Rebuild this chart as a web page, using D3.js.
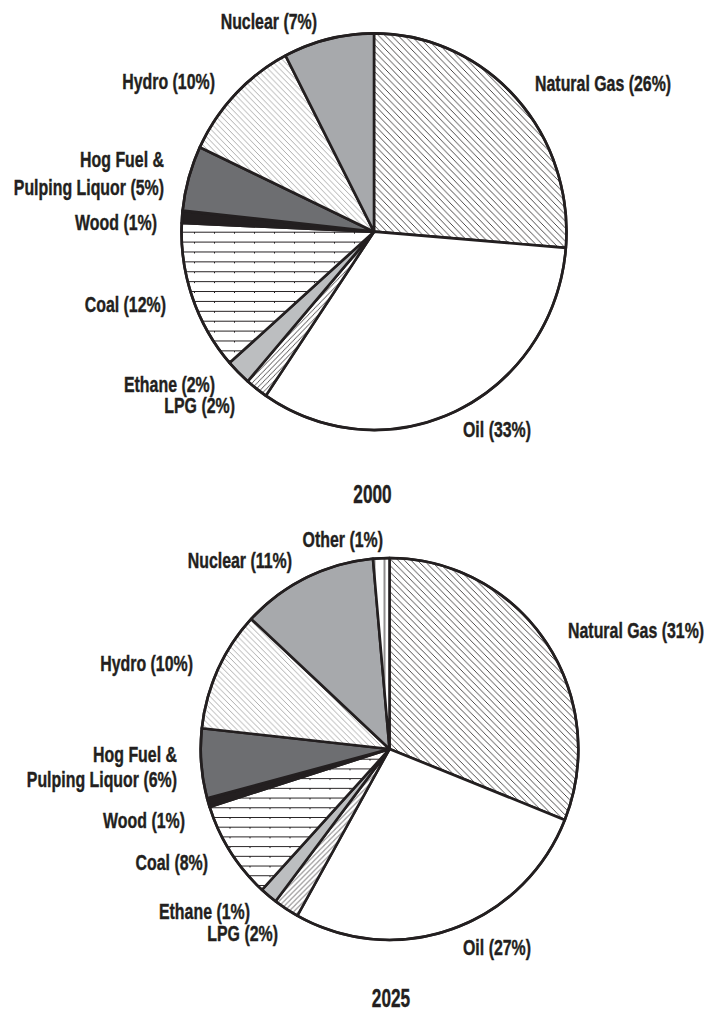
<html>
  <head>
    <meta charset="utf-8">
    <script src="https://d3js.org/d3.v7.min.js"></script>
    <style>
      body { margin: 0; background: #fff; }
      text { font-family: "Liberation Sans", Arial, sans-serif; font-weight: bold; fill: #231f20; stroke: #231f20; stroke-width: 0.4; }
    </style>
  </head>
  <body>
    <svg id="chart" width="717" height="1010"></svg>
    <script>
      // shares (printed labels are rounded)
      var categories2000 = ["Natural Gas", "Oil", "LPG", "Ethane", "Coal", "Wood", "Hog Fuel", "Hydro", "Nuclear"];
      var values2000 = [26.3, 33.2, 1.9, 2.1, 12.2, 1.0, 5.3, 10.4, 7.6];
      var labels2000 = ["Natural Gas (26%)", "Oil (33%)", "LPG (2%)", "Ethane (2%)", "Coal (12%)", "Wood (1%)",
                        "Hog Fuel &|Pulping Liquor (5%)", "Hydro (10%)", "Nuclear (7%)"];

      var categories2025 = ["Natural Gas", "Oil", "LPG", "Ethane", "Coal", "Wood", "Hog Fuel", "Hydro", "Nuclear", "Other"];
      var values2025 = [31.1, 27.1, 2.2, 1.5, 8.3, 0.75, 5.9, 10.2, 11.7, 1.4];
      var labels2025 = ["Natural Gas (31%)", "Oil (27%)", "LPG (2%)", "Ethane (1%)", "Coal (8%)", "Wood (1%)",
                        "Hog Fuel &|Pulping Liquor (6%)", "Hydro (10%)", "Nuclear (11%)", "Other (1%)"];

      var years = ["2000", "2025"];

      var ink = "#231f20";
      var svg = d3.select("#chart");
      var defs = svg.append("defs");

      // hatch patterns
      function diag(id, s, color, w, dir) {
        var p = defs.append("pattern").attr("id", id)
          .attr("patternUnits", "userSpaceOnUse").attr("width", s).attr("height", s);
        p.append("rect").attr("width", s).attr("height", s).attr("fill", "#fff");
        var d = dir > 0
          ? "M0,0L" + s + "," + s + "M" + (-s/4) + "," + (3*s/4) + "L" + (s/4) + "," + (5*s/4) + "M" + (3*s/4) + "," + (-s/4) + "L" + (5*s/4) + "," + (s/4)
          : "M0," + s + "L" + s + ",0M" + (-s/4) + "," + (s/4) + "L" + (s/4) + "," + (-s/4) + "M" + (3*s/4) + "," + (5*s/4) + "L" + (5*s/4) + "," + (3*s/4);
        p.append("path").attr("d", d).attr("stroke", color).attr("stroke-width", w);
      }
      diag("gas", 6.5, ink, 0.8, 1);
      diag("hydro", 5.8, "#8c8c8c", 0.7, 1);
      diag("lpg", 5, ink, 0.7, -1);

      var coal = defs.append("pattern").attr("id", "coal")
        .attr("patternUnits", "userSpaceOnUse").attr("width", 20).attr("height", 9.6);
      coal.append("rect").attr("width", 20).attr("height", 9.6).attr("fill", "#fff");
      coal.append("path").attr("d", "M0,0.5H20M0.5,0V2").attr("stroke", ink).attr("stroke-width", 1);

      var other = defs.append("pattern").attr("id", "other")
        .attr("patternUnits", "userSpaceOnUse").attr("width", 10).attr("height", 10);
      other.append("rect").attr("width", 10).attr("height", 10).attr("fill", "#fff");
      other.append("path").attr("d", "M5,0V10").attr("stroke", ink).attr("stroke-width", 1);

      var fills = {
        "Natural Gas": "url(#gas)", "Oil": "#fff", "LPG": "url(#lpg)", "Ethane": "#bcbec0",
        "Coal": "url(#coal)", "Wood": ink, "Hog Fuel": "#6d6e71", "Hydro": "url(#hydro)",
        "Nuclear": "#a7a9ac", "Other": "url(#other)"
      };

      // label placement on the page: [x, baseline y, anchor, line gap]
      var labelPos2000 = [[535, 91, "start"], [463, 437, "start"], [235, 413, "end"], [215, 392, "end"],
                          [166, 312, "end"], [157, 230, "end"], [164, 167, "end", 28], [215, 89, "end"], [317, 29, "end"]];
      var labelPos2025 = [[568, 638, "start"], [463, 955, "start"], [278, 941, "end"], [250, 919, "end"],
                          [208, 870, "end"], [185, 828, "end"], [177, 762, "end", 24.5], [193, 671, "end"],
                          [292, 568, "end"], [383, 547, "end"]];

      var pies = [
        { cats: categories2000, vals: values2000, labels: labels2000, pos: labelPos2000,
          cx: 374, cy: 231.7, rx: 192.5, ry: 198.3, title: years[0], tx: 372.5, ty: 503 },
        { cats: categories2025, vals: values2025, labels: labels2025, pos: labelPos2025,
          cx: 389.5, cy: 749, rx: 188.8, ry: 191, title: years[1], tx: 391, ty: 1007 }
      ];

      var squeeze = 0.74;

      pies.forEach(function(P) {
        var pie = d3.pie().sort(null).value(function(d) { return d; });
        var arcs = pie(P.vals);
        var arc = d3.arc().innerRadius(0).outerRadius(P.rx);

        var g = svg.append("g")
          .attr("transform", "translate(" + P.cx + "," + P.cy + ") scale(1," + (P.ry / P.rx) + ")");

        g.selectAll("path.slice").data(arcs).enter().append("path")
          .attr("class", "slice")
          .attr("d", arc)
          .attr("fill", function(d, i) { return fills[P.cats[i]]; })
          .attr("stroke", ink)
          .attr("stroke-width", 2.6)
          .attr("stroke-linejoin", "round");

        g.append("circle").attr("r", P.rx).attr("fill", "none")
          .attr("stroke", ink).attr("stroke-width", 2.6);

        P.labels.forEach(function(lab, i) {
          var p = P.pos[i];
          lab.split("|").forEach(function(line, k) {
            svg.append("text")
              .attr("transform", "translate(" + p[0] + "," + (p[1] + k * (p[3] || 0)) + ") scale(" + squeeze + ",1)")
              .attr("text-anchor", p[2])
              .attr("font-size", 21.5)
              .text(line);
          });
        });

        svg.append("text")
          .attr("transform", "translate(" + P.tx + "," + P.ty + ") scale(0.69,1)")
          .attr("text-anchor", "middle")
          .attr("font-size", 25)
          .text(P.title);
      });
    </script>
  </body>
</html>
